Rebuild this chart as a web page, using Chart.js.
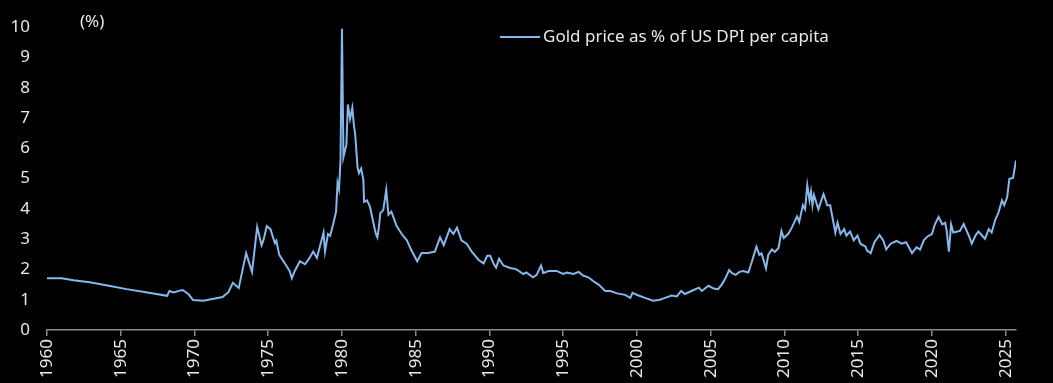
<!DOCTYPE html>
<html>
<head>
<meta charset="utf-8">
<script src="https://cdn.jsdelivr.net/npm/chart.js@4.4.1/dist/chart.umd.min.js"></script>
<style>
  html, body { margin: 0; padding: 0; background: #000; }
  #wrap { width: 1053px; height: 383px; position: relative; }
</style>
</head>
<body>
<div id="wrap"><canvas id="c" width="1053" height="383"></canvas></div>
<script>
const seriesLabel = "Gold price as % of US DPI per capita";
const unitLabel = "(%)";
const yTickLabels = [0,1,2,3,4,5,6,7,8,9,10];

const years = [
  1960.0,1961.0,1961.8,1962.9,1964.0,1965.4,1966.7,1968.15,1968.3,1968.6,1969.0,1969.2,1969.6,1969.9,
  1970.6,1971.3,1971.9,1972.3,1972.6,1973.0,1973.5,1973.9,1974.25,1974.55,1974.7,1974.9,1975.15,1975.45,
  1975.55,1975.75,1976.1,1976.45,1976.6,1976.8,1977.15,1977.5,1977.8,1978.05,1978.3,1978.75,1978.85,
  1979.05,1979.2,1979.4,1979.6,1979.7,1979.8,1979.9,1980.0,1980.1,1980.3,1980.4,1980.55,1980.7,1980.8,
  1980.9,1981.05,1981.15,1981.3,1981.45,1981.5,1981.7,1981.9,1982.15,1982.3,1982.4,1982.5,1982.6,1982.8,
  1983.0,1983.15,1983.35,1983.7,1984.05,1984.4,1984.7,1985.1,1985.4,1985.85,1986.3,1986.65,1986.9,
  1987.3,1987.55,1987.8,1988.1,1988.45,1988.8,1989.25,1989.6,1989.85,1990.05,1990.3,1990.45,1990.65,
  1990.95,1991.4,1991.8,1992.3,1992.5,1992.95,1993.2,1993.5,1993.65,1994.0,1994.55,1995.0,1995.25,
  1995.7,1996.05,1996.35,1996.7,1997.05,1997.4,1997.85,1998.2,1998.65,1999.2,1999.55,1999.7,2000.1,
  2000.55,2001.1,2001.55,2001.9,2002.35,2002.7,2003.0,2003.25,2003.85,2004.2,2004.4,2004.85,2005.2,
  2005.5,2005.75,2006.0,2006.25,2006.45,2006.7,2006.95,2007.2,2007.55,2007.8,2008.1,2008.3,2008.45,
  2008.75,2008.9,2009.15,2009.35,2009.6,2009.8,2009.95,2010.25,2010.5,2010.85,2011.0,2011.25,2011.4,
  2011.55,2011.7,2011.8,2011.9,2012.0,2012.3,2012.65,2012.9,2013.1,2013.45,2013.6,2013.8,2014.05,
  2014.2,2014.45,2014.7,2014.95,2015.15,2015.5,2015.6,2015.85,2016.1,2016.45,2016.7,2016.9,2017.2,
  2017.6,2017.95,2018.25,2018.65,2018.95,2019.2,2019.45,2019.7,2020.0,2020.2,2020.45,2020.7,2020.9,
  2021.0,2021.15,2021.3,2021.45,2021.9,2022.15,2022.5,2022.7,2022.95,2023.15,2023.4,2023.6,2023.85,
  2024.05,2024.3,2024.5,2024.75,2024.9,2025.1,2025.25,2025.5,2025.7
];
const goldPctDpi = [
  1.71,1.71,1.64,1.58,1.48,1.35,1.25,1.13,1.29,1.24,1.30,1.32,1.18,0.99,
  0.97,1.03,1.09,1.25,1.56,1.39,2.54,1.92,3.40,2.80,3.01,3.43,3.33,2.87,
  2.95,2.48,2.22,1.95,1.71,1.95,2.27,2.17,2.38,2.59,2.38,3.22,2.59,
  3.17,3.11,3.49,3.91,4.86,4.65,5.60,9.95,5.71,6.13,7.45,6.97,7.34,6.81,
  6.44,5.39,5.18,5.33,4.97,4.23,4.28,4.07,3.49,3.17,3.06,3.38,3.86,3.96,
  4.63,3.81,3.91,3.44,3.17,2.96,2.64,2.27,2.54,2.54,2.59,3.06,2.80,
  3.33,3.17,3.38,2.96,2.85,2.59,2.32,2.20,2.45,2.45,2.17,2.06,2.35,
  2.13,2.05,2.01,1.85,1.90,1.74,1.82,2.13,1.88,1.95,1.95,1.85,1.90,
  1.85,1.92,1.80,1.74,1.61,1.50,1.29,1.29,1.21,1.16,1.06,1.23,1.14,
  1.06,0.97,1.00,1.06,1.14,1.11,1.29,1.19,1.32,1.40,1.29,1.46,1.37,
  1.35,1.50,1.71,1.98,1.88,1.82,1.92,1.95,1.90,2.27,2.75,2.48,2.53,
  2.03,2.48,2.66,2.58,2.71,3.27,3.04,3.17,3.38,3.75,3.57,4.12,3.99,
  4.78,4.28,4.57,4.12,4.46,3.99,4.49,4.12,4.12,3.22,3.54,3.17,3.33,
  3.12,3.25,2.96,3.12,2.85,2.75,2.62,2.54,2.90,3.14,2.96,2.66,2.85,
  2.94,2.85,2.90,2.54,2.73,2.66,2.96,3.09,3.17,3.49,3.73,3.49,3.54,
  3.27,2.59,3.49,3.22,3.27,3.50,3.12,2.85,3.12,3.25,3.12,3.01,3.33,
  3.22,3.65,3.86,4.28,4.12,4.38,4.99,5.02,5.60
];

const FONT = "'Noto Sans', 'Open Sans', sans-serif";
const TEXT = '#e8e8e8';
const LINE = '#86b8ec';

const extras = {
  id: 'extras',
  afterDraw(chart) {
    const ctx = chart.ctx;
    ctx.save();
    ctx.fillStyle = TEXT;
    ctx.font = '17px ' + FONT;
    ctx.textBaseline = 'middle';
    ctx.textAlign = 'left';
    ctx.fillText(unitLabel, 80, 22);
    // legend
    ctx.strokeStyle = LINE;
    ctx.lineWidth = 2;
    ctx.beginPath();
    ctx.moveTo(500, 37);
    ctx.lineTo(540, 37);
    ctx.stroke();
    ctx.fillText(chart.data.datasets[0].label, 543, 37);
    ctx.restore();
  }
};

new Chart(document.getElementById('c'), {
  type: 'line',
  data: {
    datasets: [{
      label: seriesLabel,
      data: years.map((y, i) => ({ x: y, y: goldPctDpi[i] })),
      borderColor: LINE,
      borderWidth: 2,
      pointRadius: 0,
      tension: 0,
      fill: false
    }]
  },
  options: {
    responsive: false,
    animation: false,
    devicePixelRatio: 1,
    layout: { padding: { top: 14, right: 37, left: 0, bottom: 0 } },
    plugins: { legend: { display: false }, tooltip: { enabled: false } },
    scales: {
      x: {
        type: 'linear',
        min: 1960,
        max: 2025.7,
        afterBuildTicks(scale) {
          scale.ticks = [];
          for (let y = 1960; y <= 2025; y += 5) scale.ticks.push({ value: y });
        },
        afterFit(scale) { scale.height = 53; },
        border: { display: true, color: '#8a8a8a', width: 1.5 },
        grid: { display: true, drawOnChartArea: false, drawTicks: true, tickLength: 6, color: '#8a8a8a', lineWidth: 1.5 },
        ticks: {
          autoSkip: false,
          minRotation: 90,
          maxRotation: 90,
          padding: 3,
          color: TEXT,
          font: { family: FONT, size: 17 },
          callback: (v) => String(v)
        }
      },
      y: {
        type: 'linear',
        min: 0,
        max: 10,
        afterBuildTicks(scale) {
          scale.ticks = yTickLabels.map(v => ({ value: v }));
        },
        afterFit(scale) { scale.width = 47; },
        border: { display: false },
        grid: { display: false, drawTicks: false },
        ticks: {
          padding: 17,
          color: TEXT,
          font: { family: FONT, size: 17 }
        }
      }
    }
  },
  plugins: [extras]
});
</script>
</body>
</html>
